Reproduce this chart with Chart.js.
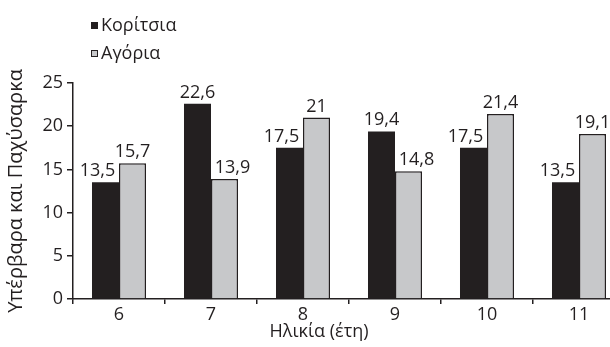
<!DOCTYPE html>
<html>
<head>
<meta charset="utf-8">
<script src="https://cdn.jsdelivr.net/npm/chart.js@4"></script>
<style>
  body { margin: 0; background: #fff; overflow: hidden; width: 610px; height: 347px; position: relative; }
  #chartBox { position: absolute; left: 0; top: 0; }
  .txt { position: absolute; font-family: "Open Sans", sans-serif; font-size: 18px; line-height: 18px; color: #231f20; white-space: nowrap; }
  .sw { display: inline-block; width: 7px; height: 7px; margin-right: 3px; vertical-align: 2px; box-sizing: border-box; }
</style>
</head>
<body>
<div id="chartBox"><canvas id="obesityChart" width="625" height="347"></canvas></div>
<div class="txt" style="left:91px; top:15px;"><span class="sw" style="background:#231f20;"></span>Κορίτσια</div>
<div class="txt" style="left:91px; top:43px;"><span class="sw" style="background:#c7c8ca; border:1px solid #231f20;"></span>Αγόρια</div>
<div class="txt" id="xTitle" style="left:319px; top:321px; transform:translateX(-50%);">Ηλικία (έτη)</div>
<script>
// ηλικίες και ποσοστά (%)
const ages = ['6', '7', '8', '9', '10', '11'];
const girls = [13.5, 22.6, 17.5, 19.4, 17.5, 13.5];
const boys = [15.7, 13.9, 21, 14.8, 21.4, 19.1];
const yTicks = [0, 5, 10, 15, 20, 25];

const ink = '#231f20';
const font18 = { family: 'Open Sans', size: 18 };

// ετικέτες τιμών πάνω από τις μπάρες, με κόμμα για δεκαδικά
const valueLabels = {
    id: 'valueLabels',
    afterDatasetsDraw(chart) {
        const ctx = chart.ctx;
        ctx.save();
        ctx.font = '18px "Open Sans"';
        ctx.textAlign = 'center';
        ctx.textBaseline = 'alphabetic';
        chart.data.datasets.forEach((ds, di) => {
            const other = chart.data.datasets[1 - di].data;
            chart.getDatasetMeta(di).data.forEach((bar, i) => {
                const v = ds.data[i];
                const text = String(v).replace('.', ',');
                // αν η διπλανή μπάρα είναι ψηλότερη, η ετικέτα μετακινείται προς τα έξω
                let x = bar.x;
                if (other[i] > v) x += di === 0 ? -8 : 8;
                const y = bar.y - 6;
                const w = ctx.measureText(text).width;
                ctx.fillStyle = '#fff';
                ctx.fillRect(x - w / 2 - 1, y - 14, w + 2, 17);
                ctx.fillStyle = ink;
                ctx.fillText(text, x, y);
            });
        });
        ctx.restore();
    }
};

new Chart(document.getElementById('obesityChart'), {
    type: 'bar',
    data: {
        labels: ages,
        datasets: [
            { label: 'Κορίτσια', data: girls, backgroundColor: ink, borderWidth: 0 },
            { label: 'Αγόρια', data: boys, backgroundColor: '#c7c8ca', borderColor: ink, borderWidth: 1.5 }
        ]
    },
    options: {
        responsive: false,
        animation: false,
        layout: { padding: { top: 83, right: 0, bottom: 0, left: 0 } },
        datasets: { bar: { categoryPercentage: 0.587, barPercentage: 1 } },
        plugins: { legend: { display: false }, tooltip: { enabled: false } },
        scales: {
            x: {
                grid: { drawOnChartArea: false, drawTicks: true, tickLength: 5, color: ink, lineWidth: 1.5 },
                border: { color: ink, width: 1.5 },
                ticks: { color: ink, font: font18, padding: 0 },
                afterFit(scale) { scale.height = 48; }
            },
            y: {
                min: 0,
                max: 25,
                afterBuildTicks(scale) { scale.ticks = yTicks.map(v => ({ value: v })); },
                grid: { drawOnChartArea: false, drawTicks: true, tickLength: 6, color: ink, lineWidth: 1.5 },
                border: { color: ink, width: 1.5 },
                ticks: { color: ink, font: font18, padding: 4 },
                title: { display: true, text: 'Υπέρβαρα και Παχύσαρκα', color: ink, font: { family: 'Open Sans', size: 20 }, padding: { top: 4, bottom: 0 } },
                afterFit(scale) { scale.width = 73; }
            }
        }
    },
    plugins: [valueLabels]
});
</script>
</body>
</html>
